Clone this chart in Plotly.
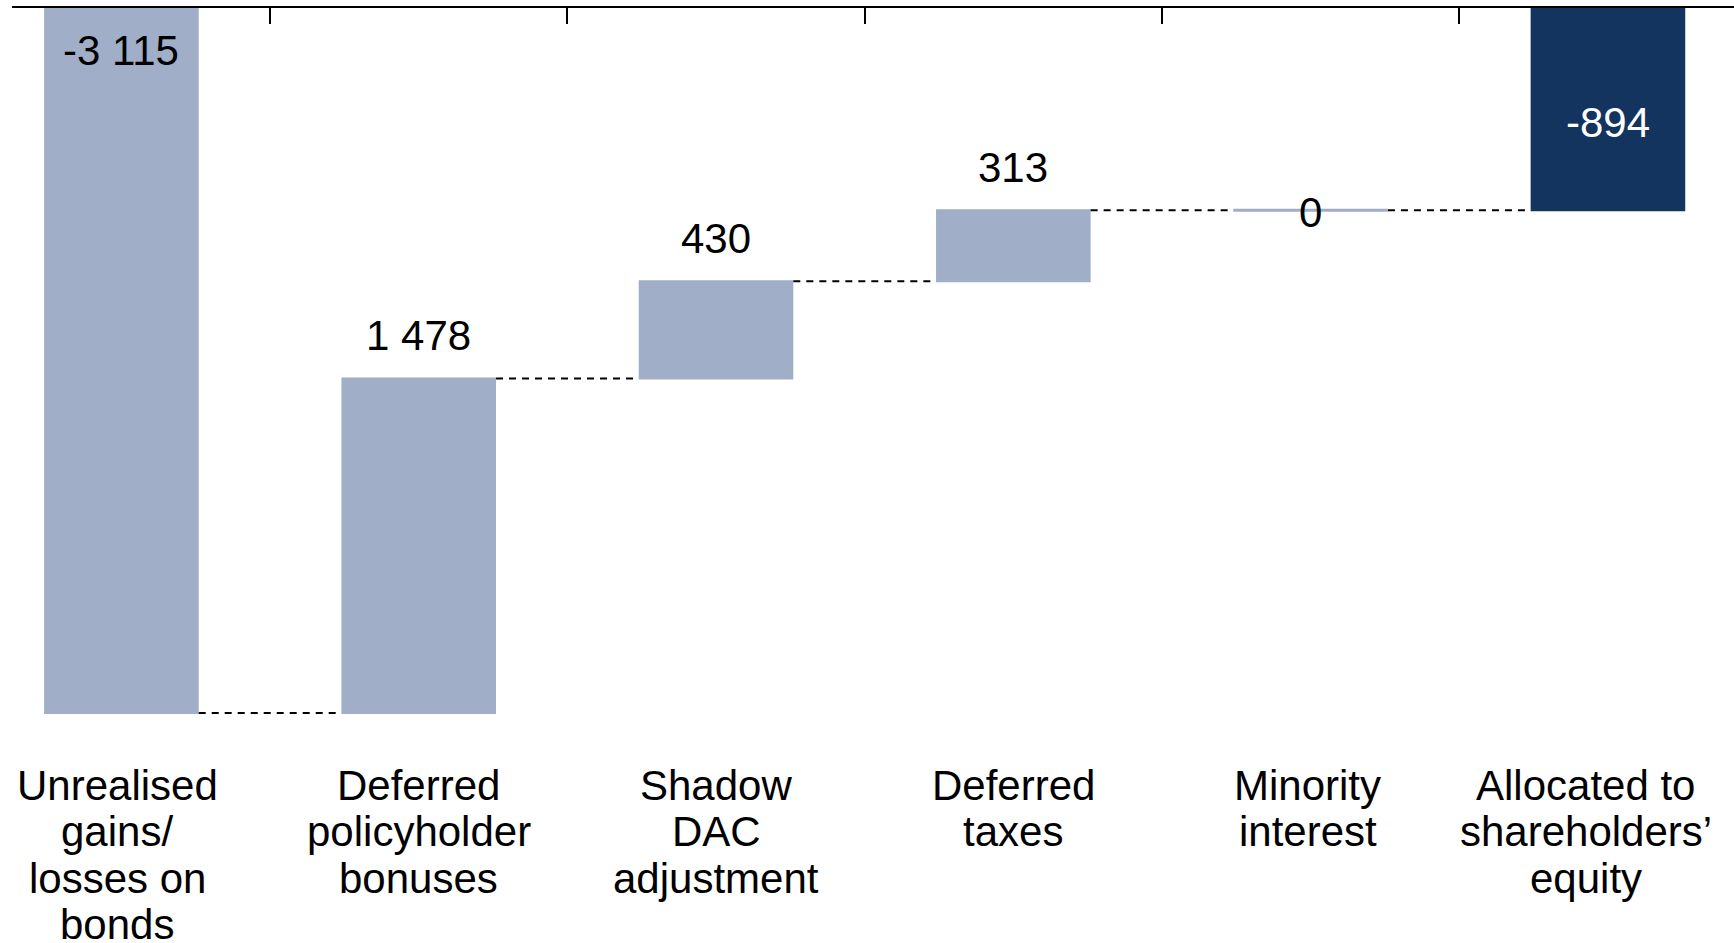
import plotly.graph_objects as go

# ---- data ----
categories = [
    "Unrealised gains/ losses on bonds",
    "Deferred policyholder bonuses",
    "Shadow DAC adjustment",
    "Deferred taxes",
    "Minority interest",
    "Allocated to shareholders’ equity",
]
label_lines = [
    ["Unrealised", "gains/", "losses on", "bonds"],
    ["Deferred", "policyholder", "bonuses"],
    ["Shadow", "DAC", "adjustment"],
    ["Deferred", "taxes"],
    ["Minority", "interest"],
    ["Allocated to", "shareholders’", "equity"],
]
values = [-3115, 1478, 430, 313, 0, -894]
measures = ["relative", "relative", "relative", "relative", "relative", "total"]

# ---- styles ----
LIGHT = "#A0AEC8"
DARK = "#12345F"
FONT = "Liberation Sans, Arial, sans-serif"
FS = 42
label_xshift = [-4, 0, 0, 0, -3, -22]

fig = go.Figure(
    go.Waterfall(
        x=categories,
        y=values,
        measure=measures,
        increasing=dict(marker=dict(color=LIGHT)),
        decreasing=dict(marker=dict(color=LIGHT)),
        totals=dict(marker=dict(color=DARK)),
        connector=dict(mode="between", line=dict(color="black", width=2, dash="7px,6px")),
        textinfo="none",
        hoverinfo="skip",
    )
)

def fmt(v):
    return f"{v:,}".replace(",", " ")

annotations = []
shapes = []
cum = 0
for i, (c, v, m) in enumerate(zip(categories, values, measures)):
    if m == "total":
        annotations.append(dict(x=c, y=cum / 2, xref="x", yref="y", text=fmt(cum),
                                showarrow=False, yanchor="middle", yshift=-13,
                                font=dict(family=FONT, size=FS, color="white")))
        continue
    start, end = cum, cum + v
    if v > 0:
        annotations.append(dict(x=c, y=end, xref="x", yref="y", text=fmt(v),
                                showarrow=False, yanchor="middle", yshift=43,
                                font=dict(family=FONT, size=FS, color="black")))
    elif v < 0:
        annotations.append(dict(x=c, y=start, xref="x", yref="y", text=fmt(v),
                                showarrow=False, yanchor="middle", yshift=-42,
                                font=dict(family=FONT, size=FS, color="black")))
    else:
        shapes.append(dict(type="line", xref="x", yref="y", x0=i - 0.26, x1=i + 0.26,
                           y0=end, y1=end, line=dict(color=LIGHT, width=3)))
        annotations.append(dict(x=c, y=end, xref="x", yref="y", text=fmt(v),
                                showarrow=False, yanchor="middle", yshift=-2,
                                font=dict(family=FONT, size=FS, color="black")))
    cum = end

# category labels (one annotation per line for tight line spacing)
for i, (c, lines) in enumerate(zip(categories, label_lines)):
    for j, line in enumerate(lines):
        annotations.append(dict(x=c, y=0, xref="x", yref="paper", text=line,
                                showarrow=False, yanchor="middle", xshift=label_xshift[i],
                                yshift=-(57 + j * 46.5),
                                font=dict(family=FONT, size=FS, color="black")))

fig.update_layout(
    width=1734, height=943,
    margin=dict(l=12, r=0, t=8, b=215),
    paper_bgcolor="white", plot_bgcolor="white",
    showlegend=False,
    waterfallgap=0.48,
    annotations=annotations,
    shapes=shapes,
    font=dict(family=FONT, size=FS, color="black"),
    xaxis=dict(
        type="category", side="top", range=[-0.368, 5.424],
        showline=True, linecolor="black", linewidth=2,
        ticks="inside", ticklen=16, tickwidth=2, tickcolor="black",
        tickson="boundaries", showticklabels=False, showgrid=False, zeroline=False,
    ),
    yaxis=dict(range=[-3181.6, 0], visible=False, showgrid=False, zeroline=False),
)

fig.write_html("out.html")
